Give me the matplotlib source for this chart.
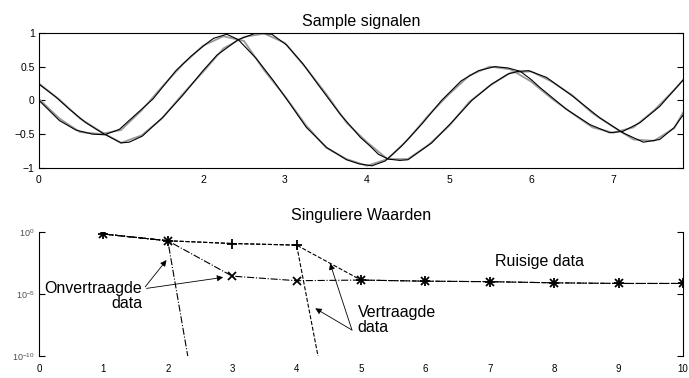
#Recreating the "Sample signalen" / "Singuliere Waarden" figure
#top: two sampled signals (clean in black, noisy in gray)
#bottom: singular values of (un)delayed data on a log scale

import numpy as np
import matplotlib
matplotlib.use('Agg')
import matplotlib.pyplot as plt
from matplotlib.ticker import FixedLocator

plt.rcParams['font.family'] = ['Liberation Sans', 'DejaVu Sans']
plt.rcParams['mathtext.default'] = 'regular'

#signal starting at 0 (clean)
t1 = [0.0, 0.25, 0.45, 0.65, 0.8, 0.98, 1.18, 1.39, 1.67, 1.85, 2.04, 2.13,
      2.29, 2.43, 2.65, 2.86, 3.06, 3.26, 3.51, 3.75, 3.9, 4.06, 4.22, 4.42,
      4.67, 4.91, 5.15, 5.36, 5.56, 5.72, 5.87, 6.0, 6.11, 6.43, 6.72, 6.96,
      7.12, 7.33, 7.57, 7.854]
sig1 = [0.0, -0.30, -0.44, -0.50, -0.51, -0.43, -0.21, 0.02, 0.44, 0.65, 0.84,
        0.92, 0.98, 0.90, 0.62, 0.29, -0.05, -0.40, -0.70, -0.88, -0.94, -0.97,
        -0.90, -0.68, -0.35, 0.0, 0.29, 0.44, 0.50, 0.48, 0.43, 0.31, 0.19,
        -0.13, -0.36, -0.48, -0.46, -0.33, -0.09, 0.30]

#signal starting at 0.25 (clean)
t2 = [0.0, 0.21, 0.37, 0.57, 0.78, 1.0, 1.1, 1.26, 1.51, 1.75, 2.0, 2.17,
      2.43, 2.65, 2.84, 3.02, 3.22, 3.43, 3.67, 3.92, 4.04, 4.14, 4.26, 4.4,
      4.5, 4.79, 5.03, 5.28, 5.52, 5.72, 5.84, 5.97, 6.19, 6.51, 6.84, 7.12,
      7.37, 7.57, 7.74, 7.854]
sig2 = [0.24, 0.045, -0.13, -0.33, -0.49, -0.63, -0.62, -0.53, -0.25, 0.07,
        0.44, 0.67, 0.90, 1.0, 0.98, 0.82, 0.54, 0.19, -0.20, -0.55, -0.68,
        -0.80, -0.87, -0.89, -0.88, -0.63, -0.33, 0.0, 0.24, 0.39, 0.43, 0.44,
        0.34, 0.06, -0.26, -0.48, -0.62, -0.58, -0.41, -0.22]

#noisy samples of both signals
t_noisy = [0, 0.25, 0.5, 0.75, 1.0, 1.25, 1.5, 1.75, 2.0, 2.25, 2.5, 2.75, 3.0,
           3.25, 3.5, 3.75, 4.0, 4.25, 4.5, 4.75, 5.0, 5.25, 5.5, 5.75, 6.0,
           6.25, 6.5, 6.75, 7.0, 7.25, 7.5, 7.75, 7.854]
sig1_noisy = [0.02, -0.27, -0.47, -0.50, -0.44, -0.15, 0.20, 0.53, 0.81, 0.95,
              0.88, 0.44, 0.06, -0.36, -0.70, -0.87, -0.97, -0.87, -0.58,
              -0.22, 0.09, 0.37, 0.50, 0.46, 0.28, 0.03, -0.19, -0.40, -0.48,
              -0.40, -0.15, 0.16, 0.30]
sig2_noisy = [0.25, 0.01, -0.27, -0.46, -0.63, -0.52, -0.27, 0.09, 0.42, 0.77,
              0.94, 0.99, 0.85, 0.49, 0.10, -0.33, -0.62, -0.87, -0.87, -0.66,
              -0.38, -0.02, 0.22, 0.41, 0.43, 0.28, 0.08, -0.19, -0.39, -0.58,
              -0.60, -0.41, -0.18]

#singular values
k = [1, 2, 3, 4, 5, 6, 7, 8, 9, 10]
sv_delayed_noisy = [0.7, 0.2, 0.12, 0.089, 1.35e-4, 1.1e-4, 1.0e-4, 8.1e-5, 7.2e-5, 7.2e-5]
sv_undelayed_noisy = [0.7, 0.2, 2.8e-4, 1.2e-4, 1.35e-4, 1.1e-4, 1.0e-4, 8.1e-5, 7.2e-5, 7.2e-5]
k_undelayed = [1, 2, 3]
sv_undelayed = [0.7, 0.2, 2e-31]
k_delayed = [1, 2, 3, 4, 5]
sv_delayed = [0.7, 0.2, 0.12, 0.089, 1e-28]

top_xticks = [0, 1, 2, 3, 4, 5, 6, 7]
top_xlabels = ['0', '', '2', '3', '4', '5', '6', '7']
top_yticks = [-1, -0.5, 0, 0.5, 1]
top_ylabels = ['\u22121', '\u22120.5', '0', '0.5', '1']
bot_xticks = [0, 1, 2, 3, 4, 5, 6, 7, 8, 9, 10]
bot_yticks = [1e-10, 1e-5, 1e0]
bot_ylabels = ['10$^{-10}$', '10$^{-5}$', '10$^{0}$']

fig = plt.figure(figsize=(6.89, 3.78), dpi=100)

#---- top plot ----
ax1 = fig.add_axes([0.0566, 0.556, 0.9347, 0.357])
ax1.plot(t_noisy, sig1_noisy, color='0.6', lw=1.3)
ax1.plot(t_noisy, sig2_noisy, color='0.6', lw=1.3)
ax1.plot(t1, sig1, color='k', lw=0.8)
ax1.plot(t2, sig2, color='k', lw=0.8)
ax1.set_xlim(0, 7.854)
ax1.set_ylim(-1, 1)
ax1.set_xticks(top_xticks)
ax1.set_xticklabels(top_xlabels)
ax1.set_yticks(top_yticks)
ax1.set_yticklabels(top_ylabels)
ax1.xaxis.set_minor_locator(FixedLocator([1, 3, 4, 7]))
ax1.tick_params(axis='x', which='major', length=0, labelsize=7.5, pad=5)
ax1.tick_params(axis='x', which='minor', length=4, direction='in', top=True, bottom=True)
ax1.tick_params(axis='y', which='major', length=4, direction='in', left=True, right=True,
                labelsize=7.5, pad=3)
ax1.set_title('Sample signalen', fontsize=11.5, pad=5)
for s in ax1.spines.values():
    s.set_linewidth(0.8)

#---- bottom plot ----
ax2 = fig.add_axes([0.0566, 0.058, 0.9347, 0.328])
ax2.set_yscale('log')
ax2.plot(k_undelayed, sv_undelayed, color='k', lw=0.8, ls='-.')
ax2.plot(k_delayed, sv_delayed, color='k', lw=0.8, ls='--')
ax2.plot(k, sv_undelayed_noisy, color='k', lw=0.8, ls='-.', marker='x', ms=5.5, mew=1.3)
ax2.plot(k, sv_delayed_noisy, color='k', lw=0.8, ls='--', marker='+', ms=7, mew=1.3)
ax2.set_xlim(0, 10)
ax2.set_ylim(1e-10, 1e0)
ax2.set_xticks(bot_xticks)
ax2.set_yticks(bot_yticks)
ax2.set_yticklabels(bot_ylabels)
ax2.yaxis.set_minor_locator(FixedLocator([]))
ax2.xaxis.set_minor_locator(FixedLocator([1, 2, 8, 9]))
ax2.tick_params(axis='x', which='major', length=0, labelsize=7, pad=6)
ax2.tick_params(axis='x', which='minor', length=4, direction='in', top=True, bottom=True)
ax2.tick_params(axis='y', which='major', length=4, direction='in', left=True, right=True,
                labelsize=6.5, pad=3, labelcolor='0.3')
ax2.spines['top'].set_visible(False)
ax2.spines['bottom'].set_visible(False)
ax2.spines['left'].set_linewidth(0.8)
ax2.spines['right'].set_linewidth(0.8)
ax2.set_title('Singuliere Waarden', fontsize=11.5, pad=9)

#annotations
arrow = dict(arrowstyle='-|>', color='k', lw=0.6, mutation_scale=9, shrinkA=0, shrinkB=0)
ax2.text(1.6, 10**-5.15, 'Onvertraagde\ndata', fontsize=11.5, ha='right', va='center',
         multialignment='right', linespacing=1.0)
ax2.annotate('', xy=(1.98, 10**-2.26), xytext=(1.65, 10**-4.41), arrowprops=arrow)
ax2.annotate('', xy=(2.86, 10**-3.65), xytext=(1.67, 10**-4.54), arrowprops=arrow)
ax2.text(4.95, 10**-7.1, 'Vertraagde\ndata', fontsize=11.5, ha='left', va='center',
         linespacing=1.0)
ax2.annotate('', xy=(4.29, 10**-6.15), xytext=(4.86, 10**-7.9), arrowprops=arrow)
ax2.annotate('', xy=(4.52, 10**-2.53), xytext=(4.86, 10**-7.9), arrowprops=arrow)
ax2.text(7.08, 10**-2.4, 'Ruisige data', fontsize=11.5, ha='left', va='center')

plt.savefig('out.png', dpi=100)
